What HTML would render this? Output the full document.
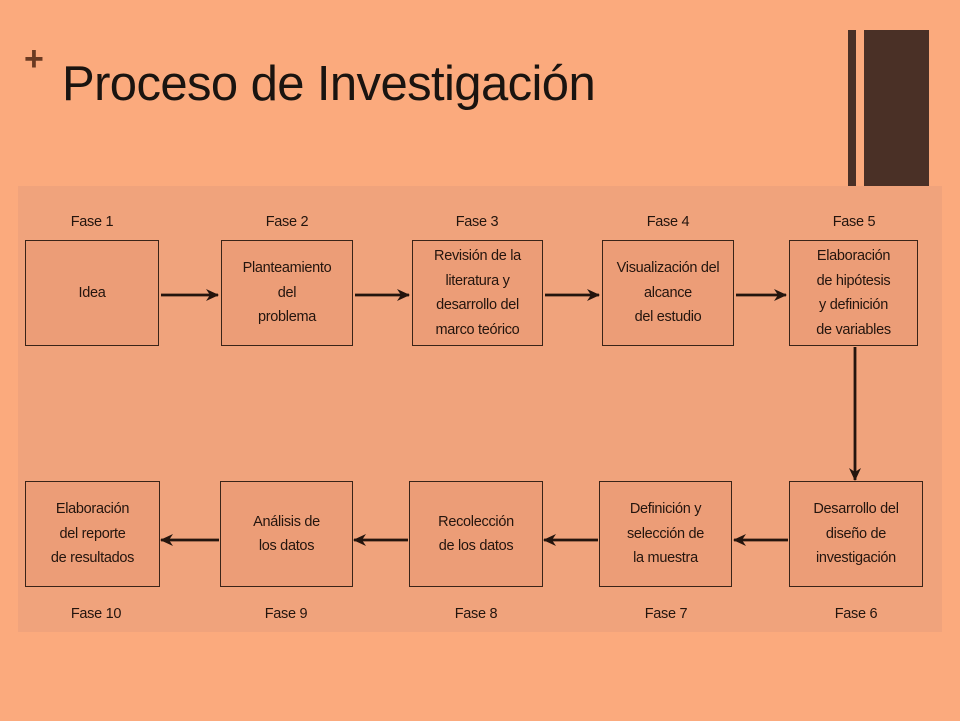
<!DOCTYPE html>
<html><head><meta charset="utf-8"><style>
body{margin:0;width:960px;height:721px;background:#FBAA7D;position:relative;overflow:hidden;font-family:"Liberation Sans",sans-serif}
.a{position:absolute}
.panel{left:18px;top:186px;width:924px;height:446px;background:#F0A37C}
.box{position:absolute;border:1.5px solid #3a2418;background:#EC9D77;box-sizing:border-box;display:flex;align-items:center;justify-content:center;text-align:center;font-size:14.5px;line-height:24.5px;color:#24150e;letter-spacing:-0.3px}
.lab{position:absolute;font-size:14.5px;color:#24150e;width:140px;text-align:center;letter-spacing:-0.3px;top:0}
</style></head><body>
<div class="a panel"></div>
<div class="a" style="left:848px;top:30px;width:8px;height:156px;background:#4A3026"></div>
<div class="a" style="left:864px;top:30px;width:65px;height:156px;background:#4A3026"></div>
<div class="a" style="left:24px;top:46px;font-size:34px;font-weight:bold;color:#6a3a22;line-height:26px">+</div>
<div class="a" style="left:62px;top:56px;font-size:49px;color:#1a1410;letter-spacing:-0.6px">Proceso de Investigación</div>

<div class="lab" style="left:22px;top:214px">Fase 1</div>
<div class="lab" style="left:217px;top:214px">Fase 2</div>
<div class="lab" style="left:407px;top:214px">Fase 3</div>
<div class="lab" style="left:598px;top:214px">Fase 4</div>
<div class="lab" style="left:784px;top:214px">Fase 5</div>
<div class="lab" style="left:26px;top:606px">Fase 10</div>
<div class="lab" style="left:216px;top:606px">Fase 9</div>
<div class="lab" style="left:406px;top:606px">Fase 8</div>
<div class="lab" style="left:596px;top:606px">Fase 7</div>
<div class="lab" style="left:786px;top:606px">Fase 6</div>

<div class="box" style="left:25px;top:240px;width:134px;height:106px">Idea</div>
<div class="box" style="left:221px;top:240px;width:132px;height:106px">Planteamiento<br>del<br>problema</div>
<div class="box" style="left:412px;top:240px;width:131px;height:106px">Revisión de la<br>literatura y<br>desarrollo del<br>marco teórico</div>
<div class="box" style="left:602px;top:240px;width:132px;height:106px">Visualización del<br>alcance<br>del estudio</div>
<div class="box" style="left:789px;top:240px;width:129px;height:106px">Elaboración<br>de hipótesis<br>y definición<br>de variables</div>

<div class="box" style="left:25px;top:481px;width:135px;height:106px">Elaboración<br>del reporte<br>de resultados</div>
<div class="box" style="left:220px;top:481px;width:133px;height:106px">Análisis de<br>los datos</div>
<div class="box" style="left:409px;top:481px;width:134px;height:106px">Recolección<br>de los datos</div>
<div class="box" style="left:599px;top:481px;width:133px;height:106px">Definición y<br>selección de<br>la muestra</div>
<div class="box" style="left:789px;top:481px;width:134px;height:106px">Desarrollo del<br>diseño de<br>investigación</div>

<svg class="a" style="left:0;top:0" width="960" height="721">
<defs><marker id="m" markerWidth="13" markerHeight="12" refX="12" refY="6" orient="auto" markerUnits="userSpaceOnUse"><path d="M0,0 L13,6 L0,12 L4,6z" fill="#24150e"/></marker></defs>
<g stroke="#24150e" stroke-width="2.8" marker-end="url(#m)">
<line x1="161" y1="295" x2="218" y2="295"/>
<line x1="355" y1="295" x2="409" y2="295"/>
<line x1="545" y1="295" x2="599" y2="295"/>
<line x1="736" y1="295" x2="786" y2="295"/>
<line x1="855" y1="347" x2="855" y2="480"/>
<line x1="788" y1="540" x2="734" y2="540"/>
<line x1="598" y1="540" x2="544" y2="540"/>
<line x1="408" y1="540" x2="354" y2="540"/>
<line x1="219" y1="540" x2="161" y2="540"/>
</g></svg>
</body></html>
